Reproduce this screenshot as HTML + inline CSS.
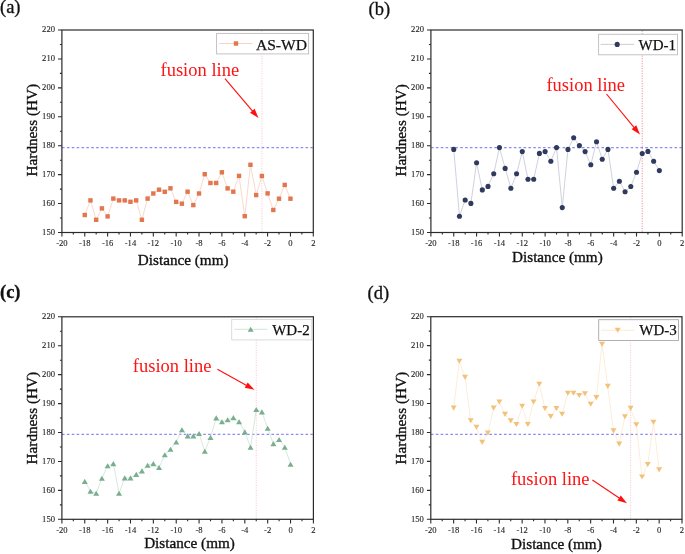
<!DOCTYPE html>
<html><head><meta charset="utf-8"><title>Hardness profiles</title>
<style>
html,body{margin:0;padding:0;background:#fff;}
body{width:685px;height:554px;overflow:hidden;font-family:"Liberation Serif",serif;}
svg{display:block;will-change:transform;}
</style></head>
<body>
<svg width="685" height="554" viewBox="0 0 685 554" font-family='"Liberation Serif", serif'><g><text x="0" y="13.2" font-size="18.5" font-weight="normal" fill="#111" stroke="#111" stroke-width="0.3">(a)</text><line x1="62" y1="147.59" x2="312.7" y2="147.59" stroke="#8c8cf5" stroke-width="1.4" stroke-dasharray="2.6 2.27"/><line x1="261.88" y1="30.6" x2="261.88" y2="231.9" stroke="#f7caca" stroke-width="1.0" stroke-dasharray="1.1 1.4"/><path d="M84.75 215L90.47 200.4L96.18 219.8L101.9 208.4L107.61 216.4L113.32 198.6L119.04 200.4L124.75 200.4L130.46 201.8L136.18 200.4L141.89 219.8L147.6 198.6L153.32 193.5L159.03 189.7L164.75 191.8L170.46 188.3L176.17 201.9L181.89 203.7L187.6 191.7L193.31 205.1L199.03 193.5L204.74 174.2L210.45 183L216.17 183L221.88 172.3L227.6 188.4L233.31 191.7L239.02 175.9L244.74 216.2L250.45 164.8L256.16 195.1L261.88 176L267.59 193.4L273.3 210L279.02 198.7L284.73 184.9L290.45 198.7" fill="none" stroke="#f6cfbf" stroke-width="0.8"/><rect x="82.55" y="212.8" width="4.4" height="4.4" fill="#e2764f"/><rect x="88.27" y="198.2" width="4.4" height="4.4" fill="#e2764f"/><rect x="93.98" y="217.6" width="4.4" height="4.4" fill="#e2764f"/><rect x="99.7" y="206.2" width="4.4" height="4.4" fill="#e2764f"/><rect x="105.41" y="214.2" width="4.4" height="4.4" fill="#e2764f"/><rect x="111.12" y="196.4" width="4.4" height="4.4" fill="#e2764f"/><rect x="116.84" y="198.2" width="4.4" height="4.4" fill="#e2764f"/><rect x="122.55" y="198.2" width="4.4" height="4.4" fill="#e2764f"/><rect x="128.26" y="199.6" width="4.4" height="4.4" fill="#e2764f"/><rect x="133.98" y="198.2" width="4.4" height="4.4" fill="#e2764f"/><rect x="139.69" y="217.6" width="4.4" height="4.4" fill="#e2764f"/><rect x="145.4" y="196.4" width="4.4" height="4.4" fill="#e2764f"/><rect x="151.12" y="191.3" width="4.4" height="4.4" fill="#e2764f"/><rect x="156.83" y="187.5" width="4.4" height="4.4" fill="#e2764f"/><rect x="162.55" y="189.6" width="4.4" height="4.4" fill="#e2764f"/><rect x="168.26" y="186.1" width="4.4" height="4.4" fill="#e2764f"/><rect x="173.97" y="199.7" width="4.4" height="4.4" fill="#e2764f"/><rect x="179.69" y="201.5" width="4.4" height="4.4" fill="#e2764f"/><rect x="185.4" y="189.5" width="4.4" height="4.4" fill="#e2764f"/><rect x="191.11" y="202.9" width="4.4" height="4.4" fill="#e2764f"/><rect x="196.83" y="191.3" width="4.4" height="4.4" fill="#e2764f"/><rect x="202.54" y="172" width="4.4" height="4.4" fill="#e2764f"/><rect x="208.25" y="180.8" width="4.4" height="4.4" fill="#e2764f"/><rect x="213.97" y="180.8" width="4.4" height="4.4" fill="#e2764f"/><rect x="219.68" y="170.1" width="4.4" height="4.4" fill="#e2764f"/><rect x="225.4" y="186.2" width="4.4" height="4.4" fill="#e2764f"/><rect x="231.11" y="189.5" width="4.4" height="4.4" fill="#e2764f"/><rect x="236.82" y="173.7" width="4.4" height="4.4" fill="#e2764f"/><rect x="242.54" y="214" width="4.4" height="4.4" fill="#e2764f"/><rect x="248.25" y="162.6" width="4.4" height="4.4" fill="#e2764f"/><rect x="253.96" y="192.9" width="4.4" height="4.4" fill="#e2764f"/><rect x="259.68" y="173.8" width="4.4" height="4.4" fill="#e2764f"/><rect x="265.39" y="191.2" width="4.4" height="4.4" fill="#e2764f"/><rect x="271.1" y="207.8" width="4.4" height="4.4" fill="#e2764f"/><rect x="276.82" y="196.5" width="4.4" height="4.4" fill="#e2764f"/><rect x="282.53" y="182.7" width="4.4" height="4.4" fill="#e2764f"/><rect x="288.25" y="196.5" width="4.4" height="4.4" fill="#e2764f"/><rect x="216.6" y="33.4" width="92" height="20.5" fill="#fff" stroke="#bdbdbd" stroke-width="0.9"/><line x1="219" y1="43.5" x2="252.6" y2="43.5" stroke="#f6cfbf" stroke-width="0.9"/><rect x="233.8" y="41.3" width="4.4" height="4.4" fill="#e2764f"/><text x="255.9" y="49.7" font-size="15.6" fill="#111" stroke="#111" stroke-width="0.25">AS-WD</text><rect x="61.9" y="30" width="251.4" height="202.5" fill="none" stroke="#2b2b2b" stroke-width="1.2"/><path d="M61.9 232.5v4.1M73.33 232.5v2M84.75 232.5v4.1M96.18 232.5v2M107.61 232.5v4.1M119.04 232.5v2M130.46 232.5v4.1M141.89 232.5v2M153.32 232.5v4.1M164.75 232.5v2M176.17 232.5v4.1M187.6 232.5v2M199.03 232.5v4.1M210.45 232.5v2M221.88 232.5v4.1M233.31 232.5v2M244.74 232.5v4.1M256.16 232.5v2M267.59 232.5v4.1M279.02 232.5v2M290.45 232.5v4.1M301.87 232.5v2M313.3 232.5v4.1M61.9 232.5h-3.9M61.9 218.04h-2M61.9 203.57h-3.9M61.9 189.11h-2M61.9 174.64h-3.9M61.9 160.18h-2M61.9 145.71h-3.9M61.9 131.25h-2M61.9 116.79h-3.9M61.9 102.32h-2M61.9 87.86h-3.9M61.9 73.39h-2M61.9 58.93h-3.9M61.9 44.46h-2M61.9 30h-3.9" stroke="#2b2b2b" stroke-width="1.1" fill="none"/><text x="61.9" y="246.3" font-size="8.6" text-anchor="middle" fill="#262626" stroke="#262626" stroke-width="0.12">-20</text><text x="84.75" y="246.3" font-size="8.6" text-anchor="middle" fill="#262626" stroke="#262626" stroke-width="0.12">-18</text><text x="107.61" y="246.3" font-size="8.6" text-anchor="middle" fill="#262626" stroke="#262626" stroke-width="0.12">-16</text><text x="130.46" y="246.3" font-size="8.6" text-anchor="middle" fill="#262626" stroke="#262626" stroke-width="0.12">-14</text><text x="153.32" y="246.3" font-size="8.6" text-anchor="middle" fill="#262626" stroke="#262626" stroke-width="0.12">-12</text><text x="176.17" y="246.3" font-size="8.6" text-anchor="middle" fill="#262626" stroke="#262626" stroke-width="0.12">-10</text><text x="199.03" y="246.3" font-size="8.6" text-anchor="middle" fill="#262626" stroke="#262626" stroke-width="0.12">-8</text><text x="221.88" y="246.3" font-size="8.6" text-anchor="middle" fill="#262626" stroke="#262626" stroke-width="0.12">-6</text><text x="244.74" y="246.3" font-size="8.6" text-anchor="middle" fill="#262626" stroke="#262626" stroke-width="0.12">-4</text><text x="267.59" y="246.3" font-size="8.6" text-anchor="middle" fill="#262626" stroke="#262626" stroke-width="0.12">-2</text><text x="290.45" y="246.3" font-size="8.6" text-anchor="middle" fill="#262626" stroke="#262626" stroke-width="0.12">0</text><text x="313.3" y="246.3" font-size="8.6" text-anchor="middle" fill="#262626" stroke="#262626" stroke-width="0.12">2</text><text x="55" y="234.8" font-size="8.6" text-anchor="end" fill="#262626" stroke="#262626" stroke-width="0.12">150</text><text x="55" y="205.87" font-size="8.6" text-anchor="end" fill="#262626" stroke="#262626" stroke-width="0.12">160</text><text x="55" y="176.94" font-size="8.6" text-anchor="end" fill="#262626" stroke="#262626" stroke-width="0.12">170</text><text x="55" y="148.01" font-size="8.6" text-anchor="end" fill="#262626" stroke="#262626" stroke-width="0.12">180</text><text x="55" y="119.09" font-size="8.6" text-anchor="end" fill="#262626" stroke="#262626" stroke-width="0.12">190</text><text x="55" y="90.16" font-size="8.6" text-anchor="end" fill="#262626" stroke="#262626" stroke-width="0.12">200</text><text x="55" y="61.23" font-size="8.6" text-anchor="end" fill="#262626" stroke="#262626" stroke-width="0.12">210</text><text x="55" y="32.3" font-size="8.6" text-anchor="end" fill="#262626" stroke="#262626" stroke-width="0.12">220</text><text x="183.2" y="264.7" font-size="15.2" text-anchor="middle" fill="#111" stroke="#111" stroke-width="0.35">Distance (mm)</text><text transform="translate(37 130.2) rotate(-90)" x="0" y="0" font-size="15.2" text-anchor="middle" fill="#111" stroke="#111" stroke-width="0.35">Hardness (HV)</text><text x="160.5" y="75.5" font-size="18.5" fill="#ff1414">fusion line</text><line x1="225" y1="78.7" x2="252.99" y2="111.53" stroke="#ff1010" stroke-width="1.15"/><path d="M258.5 118L250.05 112.72L254.62 108.82Z" fill="#ff1010"/></g>
<g><text x="368.6" y="14.6" font-size="18.5" font-weight="normal" fill="#111" stroke="#111" stroke-width="0.3">(b)</text><line x1="431" y1="147.59" x2="681.6" y2="147.59" stroke="#8c8cf5" stroke-width="1.4" stroke-dasharray="2.6 2.27"/><line x1="642.22" y1="30.6" x2="642.22" y2="231.9" stroke="#f08a8a" stroke-width="1.0" stroke-dasharray="1.1 1.4"/><path d="M453.75 149.4L459.46 216.2L465.17 200L470.88 203.4L476.59 162.8L482.3 189.9L488.01 186.4L493.73 173.8L499.44 147.6L505.15 168.4L510.86 188.2L516.57 173.8L522.28 151.6L527.99 179.2L533.7 179.2L539.42 153.4L545.13 151.6L550.84 161.2L556.55 147.6L562.26 207.6L567.97 149.4L573.68 137.7L579.4 145.6L585.11 151.6L590.82 164.8L596.53 141.7L602.24 159.2L607.95 149.4L613.66 188.3L619.38 181.2L625.09 191.7L630.8 186.5L636.51 172.2L642.22 153.5L647.93 151.4L653.64 161.2L659.35 170.6" fill="none" stroke="#c3c7d3" stroke-width="0.8"/><circle cx="453.75" cy="149.4" r="2.55" fill="#2f3a5e"/><circle cx="459.46" cy="216.2" r="2.55" fill="#2f3a5e"/><circle cx="465.17" cy="200" r="2.55" fill="#2f3a5e"/><circle cx="470.88" cy="203.4" r="2.55" fill="#2f3a5e"/><circle cx="476.59" cy="162.8" r="2.55" fill="#2f3a5e"/><circle cx="482.3" cy="189.9" r="2.55" fill="#2f3a5e"/><circle cx="488.01" cy="186.4" r="2.55" fill="#2f3a5e"/><circle cx="493.73" cy="173.8" r="2.55" fill="#2f3a5e"/><circle cx="499.44" cy="147.6" r="2.55" fill="#2f3a5e"/><circle cx="505.15" cy="168.4" r="2.55" fill="#2f3a5e"/><circle cx="510.86" cy="188.2" r="2.55" fill="#2f3a5e"/><circle cx="516.57" cy="173.8" r="2.55" fill="#2f3a5e"/><circle cx="522.28" cy="151.6" r="2.55" fill="#2f3a5e"/><circle cx="527.99" cy="179.2" r="2.55" fill="#2f3a5e"/><circle cx="533.7" cy="179.2" r="2.55" fill="#2f3a5e"/><circle cx="539.42" cy="153.4" r="2.55" fill="#2f3a5e"/><circle cx="545.13" cy="151.6" r="2.55" fill="#2f3a5e"/><circle cx="550.84" cy="161.2" r="2.55" fill="#2f3a5e"/><circle cx="556.55" cy="147.6" r="2.55" fill="#2f3a5e"/><circle cx="562.26" cy="207.6" r="2.55" fill="#2f3a5e"/><circle cx="567.97" cy="149.4" r="2.55" fill="#2f3a5e"/><circle cx="573.68" cy="137.7" r="2.55" fill="#2f3a5e"/><circle cx="579.4" cy="145.6" r="2.55" fill="#2f3a5e"/><circle cx="585.11" cy="151.6" r="2.55" fill="#2f3a5e"/><circle cx="590.82" cy="164.8" r="2.55" fill="#2f3a5e"/><circle cx="596.53" cy="141.7" r="2.55" fill="#2f3a5e"/><circle cx="602.24" cy="159.2" r="2.55" fill="#2f3a5e"/><circle cx="607.95" cy="149.4" r="2.55" fill="#2f3a5e"/><circle cx="613.66" cy="188.3" r="2.55" fill="#2f3a5e"/><circle cx="619.38" cy="181.2" r="2.55" fill="#2f3a5e"/><circle cx="625.09" cy="191.7" r="2.55" fill="#2f3a5e"/><circle cx="630.8" cy="186.5" r="2.55" fill="#2f3a5e"/><circle cx="636.51" cy="172.2" r="2.55" fill="#2f3a5e"/><circle cx="642.22" cy="153.5" r="2.55" fill="#2f3a5e"/><circle cx="647.93" cy="151.4" r="2.55" fill="#2f3a5e"/><circle cx="653.64" cy="161.2" r="2.55" fill="#2f3a5e"/><circle cx="659.35" cy="170.6" r="2.55" fill="#2f3a5e"/><rect x="598.6" y="34.3" width="78.9" height="20.5" fill="#fff" stroke="#bdbdbd" stroke-width="0.9"/><line x1="600.6" y1="44.4" x2="633.9" y2="44.4" stroke="#c3c7d3" stroke-width="0.9"/><circle cx="617.2" cy="44.4" r="2.55" fill="#2f3a5e"/><text x="638.6" y="49.6" font-size="15" fill="#111" stroke="#111" stroke-width="0.25">WD-1</text><rect x="430.9" y="30" width="251.3" height="202.5" fill="none" stroke="#2b2b2b" stroke-width="1.2"/><path d="M430.9 232.5v4.1M442.32 232.5v2M453.75 232.5v4.1M465.17 232.5v2M476.59 232.5v4.1M488.01 232.5v2M499.44 232.5v4.1M510.86 232.5v2M522.28 232.5v4.1M533.7 232.5v2M545.13 232.5v4.1M556.55 232.5v2M567.97 232.5v4.1M579.4 232.5v2M590.82 232.5v4.1M602.24 232.5v2M613.66 232.5v4.1M625.09 232.5v2M636.51 232.5v4.1M647.93 232.5v2M659.35 232.5v4.1M670.78 232.5v2M682.2 232.5v4.1M430.9 232.5h-3.9M430.9 218.04h-2M430.9 203.57h-3.9M430.9 189.11h-2M430.9 174.64h-3.9M430.9 160.18h-2M430.9 145.71h-3.9M430.9 131.25h-2M430.9 116.79h-3.9M430.9 102.32h-2M430.9 87.86h-3.9M430.9 73.39h-2M430.9 58.93h-3.9M430.9 44.46h-2M430.9 30h-3.9" stroke="#2b2b2b" stroke-width="1.1" fill="none"/><text x="430.9" y="246.3" font-size="8.6" text-anchor="middle" fill="#262626" stroke="#262626" stroke-width="0.12">-20</text><text x="453.75" y="246.3" font-size="8.6" text-anchor="middle" fill="#262626" stroke="#262626" stroke-width="0.12">-18</text><text x="476.59" y="246.3" font-size="8.6" text-anchor="middle" fill="#262626" stroke="#262626" stroke-width="0.12">-16</text><text x="499.44" y="246.3" font-size="8.6" text-anchor="middle" fill="#262626" stroke="#262626" stroke-width="0.12">-14</text><text x="522.28" y="246.3" font-size="8.6" text-anchor="middle" fill="#262626" stroke="#262626" stroke-width="0.12">-12</text><text x="545.13" y="246.3" font-size="8.6" text-anchor="middle" fill="#262626" stroke="#262626" stroke-width="0.12">-10</text><text x="567.97" y="246.3" font-size="8.6" text-anchor="middle" fill="#262626" stroke="#262626" stroke-width="0.12">-8</text><text x="590.82" y="246.3" font-size="8.6" text-anchor="middle" fill="#262626" stroke="#262626" stroke-width="0.12">-6</text><text x="613.66" y="246.3" font-size="8.6" text-anchor="middle" fill="#262626" stroke="#262626" stroke-width="0.12">-4</text><text x="636.51" y="246.3" font-size="8.6" text-anchor="middle" fill="#262626" stroke="#262626" stroke-width="0.12">-2</text><text x="659.35" y="246.3" font-size="8.6" text-anchor="middle" fill="#262626" stroke="#262626" stroke-width="0.12">0</text><text x="682.2" y="246.3" font-size="8.6" text-anchor="middle" fill="#262626" stroke="#262626" stroke-width="0.12">2</text><text x="424" y="234.8" font-size="8.6" text-anchor="end" fill="#262626" stroke="#262626" stroke-width="0.12">150</text><text x="424" y="205.87" font-size="8.6" text-anchor="end" fill="#262626" stroke="#262626" stroke-width="0.12">160</text><text x="424" y="176.94" font-size="8.6" text-anchor="end" fill="#262626" stroke="#262626" stroke-width="0.12">170</text><text x="424" y="148.01" font-size="8.6" text-anchor="end" fill="#262626" stroke="#262626" stroke-width="0.12">180</text><text x="424" y="119.09" font-size="8.6" text-anchor="end" fill="#262626" stroke="#262626" stroke-width="0.12">190</text><text x="424" y="90.16" font-size="8.6" text-anchor="end" fill="#262626" stroke="#262626" stroke-width="0.12">200</text><text x="424" y="61.23" font-size="8.6" text-anchor="end" fill="#262626" stroke="#262626" stroke-width="0.12">210</text><text x="424" y="32.3" font-size="8.6" text-anchor="end" fill="#262626" stroke="#262626" stroke-width="0.12">220</text><text x="557.4" y="262.2" font-size="15.2" text-anchor="middle" fill="#111" stroke="#111" stroke-width="0.35">Distance (mm)</text><text transform="translate(405.9 130.4) rotate(-90)" x="0" y="0" font-size="15.2" text-anchor="middle" fill="#111" stroke="#111" stroke-width="0.35">Hardness (HV)</text><text x="546.4" y="91.2" font-size="18.5" fill="#ff1414">fusion line</text><line x1="606.5" y1="94" x2="634.59" y2="128.04" stroke="#ff1010" stroke-width="1.15"/><path d="M640 134.6L631.64 129.18L636.27 125.36Z" fill="#ff1010"/></g>
<g><text x="0" y="298.4" font-size="18.5" font-weight="bold" fill="#111" stroke="#111" stroke-width="0.3">(c)</text><line x1="62" y1="434.39" x2="312.8" y2="434.39" stroke="#8c8cf5" stroke-width="1.4" stroke-dasharray="2.6 2.27"/><line x1="256.24" y1="317.4" x2="256.24" y2="518.7" stroke="#f7caca" stroke-width="1.0" stroke-dasharray="1.1 1.4"/><path d="M84.76 481.4L90.48 491.2L96.2 493.3L101.91 478.2L107.63 465.7L113.34 463.6L119.06 493.3L124.77 477.9L130.49 477.9L136.21 474.4L141.92 470.9L147.64 465.2L153.35 463.6L159.07 467.5L164.79 454.8L170.5 449.2L176.22 442L181.93 429.8L187.65 435.9L193.37 435.9L199.08 433.5L204.8 451.2L210.51 437.4L216.23 417.9L221.95 421.7L227.66 419.7L233.38 417.6L239.09 421.7L244.81 431.9L250.52 447.2L256.24 409.5L261.96 411.9L267.67 428.2L273.39 443.6L279.1 439.5L284.82 447.2L290.54 464.2" fill="none" stroke="#cde2d5" stroke-width="0.8"/><path d="M84.76 478.85L87.76 483.95L81.76 483.95Z" fill="#79ae8e"/><path d="M90.48 488.65L93.48 493.75L87.48 493.75Z" fill="#79ae8e"/><path d="M96.2 490.75L99.2 495.85L93.2 495.85Z" fill="#79ae8e"/><path d="M101.91 475.65L104.91 480.75L98.91 480.75Z" fill="#79ae8e"/><path d="M107.63 463.15L110.63 468.25L104.63 468.25Z" fill="#79ae8e"/><path d="M113.34 461.05L116.34 466.15L110.34 466.15Z" fill="#79ae8e"/><path d="M119.06 490.75L122.06 495.85L116.06 495.85Z" fill="#79ae8e"/><path d="M124.77 475.35L127.77 480.45L121.77 480.45Z" fill="#79ae8e"/><path d="M130.49 475.35L133.49 480.45L127.49 480.45Z" fill="#79ae8e"/><path d="M136.21 471.85L139.21 476.95L133.21 476.95Z" fill="#79ae8e"/><path d="M141.92 468.35L144.92 473.45L138.92 473.45Z" fill="#79ae8e"/><path d="M147.64 462.65L150.64 467.75L144.64 467.75Z" fill="#79ae8e"/><path d="M153.35 461.05L156.35 466.15L150.35 466.15Z" fill="#79ae8e"/><path d="M159.07 464.95L162.07 470.05L156.07 470.05Z" fill="#79ae8e"/><path d="M164.79 452.25L167.79 457.35L161.79 457.35Z" fill="#79ae8e"/><path d="M170.5 446.65L173.5 451.75L167.5 451.75Z" fill="#79ae8e"/><path d="M176.22 439.45L179.22 444.55L173.22 444.55Z" fill="#79ae8e"/><path d="M181.93 427.25L184.93 432.35L178.93 432.35Z" fill="#79ae8e"/><path d="M187.65 433.35L190.65 438.45L184.65 438.45Z" fill="#79ae8e"/><path d="M193.37 433.35L196.37 438.45L190.37 438.45Z" fill="#79ae8e"/><path d="M199.08 430.95L202.08 436.05L196.08 436.05Z" fill="#79ae8e"/><path d="M204.8 448.65L207.8 453.75L201.8 453.75Z" fill="#79ae8e"/><path d="M210.51 434.85L213.51 439.95L207.51 439.95Z" fill="#79ae8e"/><path d="M216.23 415.35L219.23 420.45L213.23 420.45Z" fill="#79ae8e"/><path d="M221.95 419.15L224.95 424.25L218.95 424.25Z" fill="#79ae8e"/><path d="M227.66 417.15L230.66 422.25L224.66 422.25Z" fill="#79ae8e"/><path d="M233.38 415.05L236.38 420.15L230.38 420.15Z" fill="#79ae8e"/><path d="M239.09 419.15L242.09 424.25L236.09 424.25Z" fill="#79ae8e"/><path d="M244.81 429.35L247.81 434.45L241.81 434.45Z" fill="#79ae8e"/><path d="M250.52 444.65L253.52 449.75L247.52 449.75Z" fill="#79ae8e"/><path d="M256.24 406.95L259.24 412.05L253.24 412.05Z" fill="#79ae8e"/><path d="M261.96 409.35L264.96 414.45L258.96 414.45Z" fill="#79ae8e"/><path d="M267.67 425.65L270.67 430.75L264.67 430.75Z" fill="#79ae8e"/><path d="M273.39 441.05L276.39 446.15L270.39 446.15Z" fill="#79ae8e"/><path d="M279.1 436.95L282.1 442.05L276.1 442.05Z" fill="#79ae8e"/><path d="M284.82 444.65L287.82 449.75L281.82 449.75Z" fill="#79ae8e"/><path d="M290.54 461.65L293.54 466.75L287.54 466.75Z" fill="#79ae8e"/><rect x="231.7" y="319.5" width="80" height="20.4" fill="#fff" stroke="#d8d8d8" stroke-width="0.9"/><line x1="234.2" y1="329.3" x2="267.4" y2="329.3" stroke="#cde2d5" stroke-width="0.9"/><path d="M250.7 326.75L253.7 331.85L247.7 331.85Z" fill="#79ae8e"/><text x="272.2" y="334.9" font-size="15" fill="#111" stroke="#111" stroke-width="0.25">WD-2</text><rect x="61.9" y="316.8" width="251.5" height="202.5" fill="none" stroke="#2b2b2b" stroke-width="1.2"/><path d="M61.9 519.3v4.1M73.33 519.3v2M84.76 519.3v4.1M96.2 519.3v2M107.63 519.3v4.1M119.06 519.3v2M130.49 519.3v4.1M141.92 519.3v2M153.35 519.3v4.1M164.79 519.3v2M176.22 519.3v4.1M187.65 519.3v2M199.08 519.3v4.1M210.51 519.3v2M221.95 519.3v4.1M233.38 519.3v2M244.81 519.3v4.1M256.24 519.3v2M267.67 519.3v4.1M279.1 519.3v2M290.54 519.3v4.1M301.97 519.3v2M313.4 519.3v4.1M61.9 519.3h-3.9M61.9 504.84h-2M61.9 490.37h-3.9M61.9 475.91h-2M61.9 461.44h-3.9M61.9 446.98h-2M61.9 432.51h-3.9M61.9 418.05h-2M61.9 403.59h-3.9M61.9 389.12h-2M61.9 374.66h-3.9M61.9 360.19h-2M61.9 345.73h-3.9M61.9 331.26h-2M61.9 316.8h-3.9" stroke="#2b2b2b" stroke-width="1.1" fill="none"/><text x="61.9" y="533.1" font-size="8.6" text-anchor="middle" fill="#262626" stroke="#262626" stroke-width="0.12">-20</text><text x="84.76" y="533.1" font-size="8.6" text-anchor="middle" fill="#262626" stroke="#262626" stroke-width="0.12">-18</text><text x="107.63" y="533.1" font-size="8.6" text-anchor="middle" fill="#262626" stroke="#262626" stroke-width="0.12">-16</text><text x="130.49" y="533.1" font-size="8.6" text-anchor="middle" fill="#262626" stroke="#262626" stroke-width="0.12">-14</text><text x="153.35" y="533.1" font-size="8.6" text-anchor="middle" fill="#262626" stroke="#262626" stroke-width="0.12">-12</text><text x="176.22" y="533.1" font-size="8.6" text-anchor="middle" fill="#262626" stroke="#262626" stroke-width="0.12">-10</text><text x="199.08" y="533.1" font-size="8.6" text-anchor="middle" fill="#262626" stroke="#262626" stroke-width="0.12">-8</text><text x="221.95" y="533.1" font-size="8.6" text-anchor="middle" fill="#262626" stroke="#262626" stroke-width="0.12">-6</text><text x="244.81" y="533.1" font-size="8.6" text-anchor="middle" fill="#262626" stroke="#262626" stroke-width="0.12">-4</text><text x="267.67" y="533.1" font-size="8.6" text-anchor="middle" fill="#262626" stroke="#262626" stroke-width="0.12">-2</text><text x="290.54" y="533.1" font-size="8.6" text-anchor="middle" fill="#262626" stroke="#262626" stroke-width="0.12">0</text><text x="313.4" y="533.1" font-size="8.6" text-anchor="middle" fill="#262626" stroke="#262626" stroke-width="0.12">2</text><text x="55" y="521.6" font-size="8.6" text-anchor="end" fill="#262626" stroke="#262626" stroke-width="0.12">150</text><text x="55" y="492.67" font-size="8.6" text-anchor="end" fill="#262626" stroke="#262626" stroke-width="0.12">160</text><text x="55" y="463.74" font-size="8.6" text-anchor="end" fill="#262626" stroke="#262626" stroke-width="0.12">170</text><text x="55" y="434.81" font-size="8.6" text-anchor="end" fill="#262626" stroke="#262626" stroke-width="0.12">180</text><text x="55" y="405.89" font-size="8.6" text-anchor="end" fill="#262626" stroke="#262626" stroke-width="0.12">190</text><text x="55" y="376.96" font-size="8.6" text-anchor="end" fill="#262626" stroke="#262626" stroke-width="0.12">200</text><text x="55" y="348.03" font-size="8.6" text-anchor="end" fill="#262626" stroke="#262626" stroke-width="0.12">210</text><text x="55" y="319.1" font-size="8.6" text-anchor="end" fill="#262626" stroke="#262626" stroke-width="0.12">220</text><text x="189.5" y="547.8" font-size="15.2" text-anchor="middle" fill="#111" stroke="#111" stroke-width="0.35">Distance (mm)</text><text transform="translate(37.2 418.2) rotate(-90)" x="0" y="0" font-size="15.2" text-anchor="middle" fill="#111" stroke="#111" stroke-width="0.35">Hardness (HV)</text><text x="132.8" y="371.9" font-size="18.5" fill="#ff1414">fusion line</text><line x1="217.4" y1="369.3" x2="247.06" y2="385.69" stroke="#ff1010" stroke-width="1.15"/><path d="M254.5 389.8L244.73 387.83L247.64 382.58Z" fill="#ff1010"/></g>
<g><text x="367.6" y="299" font-size="18.5" font-weight="normal" fill="#111" stroke="#111" stroke-width="0.3">(d)</text><line x1="430.9" y1="434.35" x2="681.4" y2="434.35" stroke="#8c8cf5" stroke-width="1.4" stroke-dasharray="2.6 2.27"/><line x1="630.62" y1="317.3" x2="630.62" y2="518.7" stroke="#f7caca" stroke-width="1.0" stroke-dasharray="1.1 1.4"/><path d="M453.64 408.1L459.35 361.2L465.05 377.4L470.76 420.8L476.47 427.3L482.18 442.4L487.89 433L493.6 408.1L499.31 402L505.02 414.4L510.73 420.9L516.44 424.5L522.15 406.3L527.85 424.5L533.56 402.1L539.27 384.2L544.98 408.5L550.69 416.6L556.4 408.5L562.11 414.3L567.82 393.2L573.53 393.2L579.24 395.5L584.95 393.7L590.65 404.2L596.36 397.6L602.07 344.4L607.78 386.4L613.49 430.9L619.2 444.1L624.91 416.7L630.62 408.4L636.33 424.8L642.04 477L647.75 464.5L653.45 422.4L659.16 469.9" fill="none" stroke="#fbe8cf" stroke-width="0.8"/><path d="M450.64 405.55L456.64 405.55L453.64 410.65Z" fill="#f2c27a"/><path d="M456.35 358.65L462.35 358.65L459.35 363.75Z" fill="#f2c27a"/><path d="M462.05 374.85L468.05 374.85L465.05 379.95Z" fill="#f2c27a"/><path d="M467.76 418.25L473.76 418.25L470.76 423.35Z" fill="#f2c27a"/><path d="M473.47 424.75L479.47 424.75L476.47 429.85Z" fill="#f2c27a"/><path d="M479.18 439.85L485.18 439.85L482.18 444.95Z" fill="#f2c27a"/><path d="M484.89 430.45L490.89 430.45L487.89 435.55Z" fill="#f2c27a"/><path d="M490.6 405.55L496.6 405.55L493.6 410.65Z" fill="#f2c27a"/><path d="M496.31 399.45L502.31 399.45L499.31 404.55Z" fill="#f2c27a"/><path d="M502.02 411.85L508.02 411.85L505.02 416.95Z" fill="#f2c27a"/><path d="M507.73 418.35L513.73 418.35L510.73 423.45Z" fill="#f2c27a"/><path d="M513.44 421.95L519.44 421.95L516.44 427.05Z" fill="#f2c27a"/><path d="M519.15 403.75L525.15 403.75L522.15 408.85Z" fill="#f2c27a"/><path d="M524.85 421.95L530.85 421.95L527.85 427.05Z" fill="#f2c27a"/><path d="M530.56 399.55L536.56 399.55L533.56 404.65Z" fill="#f2c27a"/><path d="M536.27 381.65L542.27 381.65L539.27 386.75Z" fill="#f2c27a"/><path d="M541.98 405.95L547.98 405.95L544.98 411.05Z" fill="#f2c27a"/><path d="M547.69 414.05L553.69 414.05L550.69 419.15Z" fill="#f2c27a"/><path d="M553.4 405.95L559.4 405.95L556.4 411.05Z" fill="#f2c27a"/><path d="M559.11 411.75L565.11 411.75L562.11 416.85Z" fill="#f2c27a"/><path d="M564.82 390.65L570.82 390.65L567.82 395.75Z" fill="#f2c27a"/><path d="M570.53 390.65L576.53 390.65L573.53 395.75Z" fill="#f2c27a"/><path d="M576.24 392.95L582.24 392.95L579.24 398.05Z" fill="#f2c27a"/><path d="M581.95 391.15L587.95 391.15L584.95 396.25Z" fill="#f2c27a"/><path d="M587.65 401.65L593.65 401.65L590.65 406.75Z" fill="#f2c27a"/><path d="M593.36 395.05L599.36 395.05L596.36 400.15Z" fill="#f2c27a"/><path d="M599.07 341.85L605.07 341.85L602.07 346.95Z" fill="#f2c27a"/><path d="M604.78 383.85L610.78 383.85L607.78 388.95Z" fill="#f2c27a"/><path d="M610.49 428.35L616.49 428.35L613.49 433.45Z" fill="#f2c27a"/><path d="M616.2 441.55L622.2 441.55L619.2 446.65Z" fill="#f2c27a"/><path d="M621.91 414.15L627.91 414.15L624.91 419.25Z" fill="#f2c27a"/><path d="M627.62 405.85L633.62 405.85L630.62 410.95Z" fill="#f2c27a"/><path d="M633.33 422.25L639.33 422.25L636.33 427.35Z" fill="#f2c27a"/><path d="M639.04 474.45L645.04 474.45L642.04 479.55Z" fill="#f2c27a"/><path d="M644.75 461.95L650.75 461.95L647.75 467.05Z" fill="#f2c27a"/><path d="M650.45 419.85L656.45 419.85L653.45 424.95Z" fill="#f2c27a"/><path d="M656.16 467.35L662.16 467.35L659.16 472.45Z" fill="#f2c27a"/><rect x="598.7" y="319.7" width="79.8" height="20.8" fill="#fff" stroke="#a8a8a8" stroke-width="0.9"/><line x1="601.1" y1="330.2" x2="634.7" y2="330.2" stroke="#fbe8cf" stroke-width="0.9"/><path d="M614.7 327.65L620.7 327.65L617.7 332.75Z" fill="#f2c27a"/><text x="639.3" y="335.2" font-size="15" fill="#111" stroke="#111" stroke-width="0.25">WD-3</text><rect x="430.8" y="316.7" width="251.2" height="202.6" fill="none" stroke="#2b2b2b" stroke-width="1.2"/><path d="M430.8 519.3v4.1M442.22 519.3v2M453.64 519.3v4.1M465.05 519.3v2M476.47 519.3v4.1M487.89 519.3v2M499.31 519.3v4.1M510.73 519.3v2M522.15 519.3v4.1M533.56 519.3v2M544.98 519.3v4.1M556.4 519.3v2M567.82 519.3v4.1M579.24 519.3v2M590.65 519.3v4.1M602.07 519.3v2M613.49 519.3v4.1M624.91 519.3v2M636.33 519.3v4.1M647.75 519.3v2M659.16 519.3v4.1M670.58 519.3v2M682 519.3v4.1M430.8 519.3h-3.9M430.8 504.83h-2M430.8 490.36h-3.9M430.8 475.89h-2M430.8 461.41h-3.9M430.8 446.94h-2M430.8 432.47h-3.9M430.8 418h-2M430.8 403.53h-3.9M430.8 389.06h-2M430.8 374.59h-3.9M430.8 360.11h-2M430.8 345.64h-3.9M430.8 331.17h-2M430.8 316.7h-3.9" stroke="#2b2b2b" stroke-width="1.1" fill="none"/><text x="430.8" y="533.1" font-size="8.6" text-anchor="middle" fill="#262626" stroke="#262626" stroke-width="0.12">-20</text><text x="453.64" y="533.1" font-size="8.6" text-anchor="middle" fill="#262626" stroke="#262626" stroke-width="0.12">-18</text><text x="476.47" y="533.1" font-size="8.6" text-anchor="middle" fill="#262626" stroke="#262626" stroke-width="0.12">-16</text><text x="499.31" y="533.1" font-size="8.6" text-anchor="middle" fill="#262626" stroke="#262626" stroke-width="0.12">-14</text><text x="522.15" y="533.1" font-size="8.6" text-anchor="middle" fill="#262626" stroke="#262626" stroke-width="0.12">-12</text><text x="544.98" y="533.1" font-size="8.6" text-anchor="middle" fill="#262626" stroke="#262626" stroke-width="0.12">-10</text><text x="567.82" y="533.1" font-size="8.6" text-anchor="middle" fill="#262626" stroke="#262626" stroke-width="0.12">-8</text><text x="590.65" y="533.1" font-size="8.6" text-anchor="middle" fill="#262626" stroke="#262626" stroke-width="0.12">-6</text><text x="613.49" y="533.1" font-size="8.6" text-anchor="middle" fill="#262626" stroke="#262626" stroke-width="0.12">-4</text><text x="636.33" y="533.1" font-size="8.6" text-anchor="middle" fill="#262626" stroke="#262626" stroke-width="0.12">-2</text><text x="659.16" y="533.1" font-size="8.6" text-anchor="middle" fill="#262626" stroke="#262626" stroke-width="0.12">0</text><text x="682" y="533.1" font-size="8.6" text-anchor="middle" fill="#262626" stroke="#262626" stroke-width="0.12">2</text><text x="423.9" y="521.6" font-size="8.6" text-anchor="end" fill="#262626" stroke="#262626" stroke-width="0.12">150</text><text x="423.9" y="492.66" font-size="8.6" text-anchor="end" fill="#262626" stroke="#262626" stroke-width="0.12">160</text><text x="423.9" y="463.71" font-size="8.6" text-anchor="end" fill="#262626" stroke="#262626" stroke-width="0.12">170</text><text x="423.9" y="434.77" font-size="8.6" text-anchor="end" fill="#262626" stroke="#262626" stroke-width="0.12">180</text><text x="423.9" y="405.83" font-size="8.6" text-anchor="end" fill="#262626" stroke="#262626" stroke-width="0.12">190</text><text x="423.9" y="376.89" font-size="8.6" text-anchor="end" fill="#262626" stroke="#262626" stroke-width="0.12">200</text><text x="423.9" y="347.94" font-size="8.6" text-anchor="end" fill="#262626" stroke="#262626" stroke-width="0.12">210</text><text x="423.9" y="319" font-size="8.6" text-anchor="end" fill="#262626" stroke="#262626" stroke-width="0.12">220</text><text x="556.4" y="549.2" font-size="15.2" text-anchor="middle" fill="#111" stroke="#111" stroke-width="0.35">Distance (mm)</text><text transform="translate(405.8 418.2) rotate(-90)" x="0" y="0" font-size="15.2" text-anchor="middle" fill="#111" stroke="#111" stroke-width="0.35">Hardness (HV)</text><text x="510.9" y="484.9" font-size="18.5" fill="#ff1414">fusion line</text><line x1="592.4" y1="480" x2="619.94" y2="498.47" stroke="#ff1010" stroke-width="1.15"/><path d="M627 503.2L617.44 500.4L620.78 495.42Z" fill="#ff1010"/></g></svg>
</body></html>
